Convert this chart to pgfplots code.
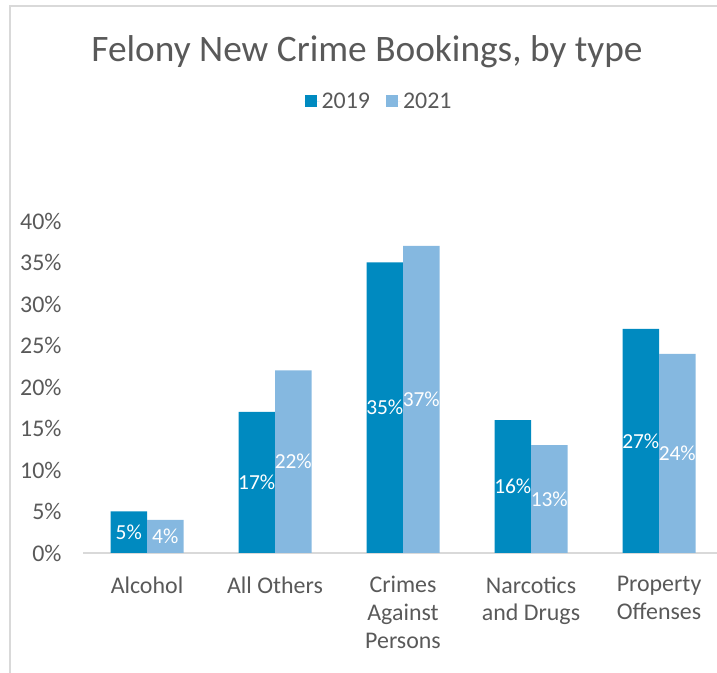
\documentclass[border=0pt]{standalone}
\usepackage{pgfplots}
\pgfplotsset{compat=1.18}
\usepackage{fontspec}
\setmainfont{Carlito}
\definecolor{c19}{HTML}{008AC0}
\definecolor{c21}{HTML}{85B8E0}
\definecolor{txt}{HTML}{595959}
\definecolor{brd}{HTML}{D9D9D9}
\begin{document}
\begin{tikzpicture}[x=1bp,y=1bp]
\useasboundingbox (0,0) rectangle (717,673);
\draw[brd, line width=1.5bp] (10,0) -- (10,667) -- (717,667);
\begin{axis}[
  at={(83bp,120bp)}, anchor=south west,
  width=634bp, height=332bp, scale only axis,
  ybar=0pt, bar width=36.5bp,
  xmin=-0.5, xmax=4.453, ymin=0, ymax=40,
  enlargelimits=false,
  xtick={0,1,2,3,4},
  xticklabels={Alcohol, All Others, Crimes\\Against\\Persons, Narcotics\\and Drugs, Property\\Offenses},
  xticklabel style={align=center, font=\fontsize{24}{28}\selectfont, text=txt, yshift=-20bp},
  ytick={0,5,...,40},
  yticklabel={\pgfmathprintnumber{\tick}\%},
  yticklabel style={font=\fontsize{24}{24}\selectfont, text=txt, anchor=east, xshift=-18bp},
  axis x line*=bottom, axis y line*=left,
  y axis line style={draw=none},
  x axis line style={draw=brd, line width=1.5bp, -},
  major tick length=0pt,
  /pgf/number format/assume math mode=true,
  visualization depends on={y \as \rawy},
  nodes near coords={\pgfmathprintnumber{\pgfplotspointmeta}\%},
  nodes near coords style={font=\fontsize{21.5}{21.5}\selectfont, text=white, anchor=center, inner sep=0pt, shift={(axis direction cs:0,-\rawy/2)}},
  legend style={at={(0.467,1.361)}, anchor=center, draw=none, fill=none, legend columns=2, font=\fontsize{24}{24}\selectfont, text=txt, /tikz/every even column/.append style={column sep=14bp}},
  legend image code/.code={\fill[#1] (0bp,-6bp) rectangle (12bp,6bp); \path (0bp,0bp) -- (15bp,0bp);},
]
\addplot[fill=c19, draw=none] coordinates {(0,5) (1,17) (2,35) (3,16) (4,27)};
\addplot[fill=c21, draw=none] coordinates {(0,4) (1,22) (2,37) (3,13) (4,24)};
\legend{2019,2021}
\end{axis}
\node[font=\fontsize{37.5}{37.5}\selectfont, text=txt] at (367,621) {Felony New Crime Bookings, by type};
\end{tikzpicture}
\end{document}
